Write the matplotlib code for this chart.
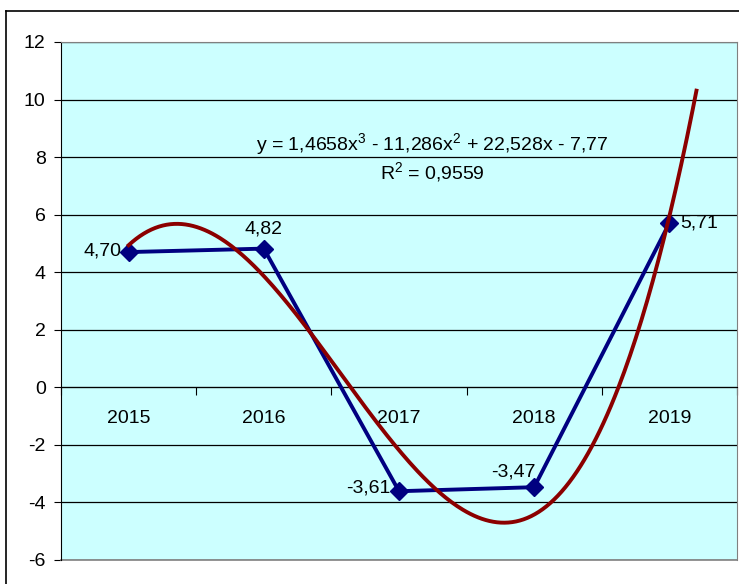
import numpy as np
import matplotlib
matplotlib.use('Agg')
from matplotlib import pyplot as plt
from matplotlib.lines import Line2D

plt.rcParams['font.family'] = ['Liberation Sans', 'DejaVu Sans']
plt.rcParams['mathtext.fontset'] = 'custom'
plt.rcParams['mathtext.rm'] = 'Liberation Sans'
plt.rcParams['mathtext.it'] = 'Liberation Sans'
plt.rcParams['axes.unicode_minus'] = False

years = ['2015', '2016', '2017', '2018', '2019']
values = [4.70, 4.82, -3.61, -3.47, 5.71]
value_labels = ['4,70', '4,82', '-3,61', '-3,47', '5,71']
equation = r'y = 1,4658x$^3$ - 11,286x$^2$ + 22,528x - 7,77'
r_squared = r'R$^2$ = 0,9559'
y_ticks = [-6, -4, -2, 0, 2, 4, 6, 8, 10, 12]

x = np.arange(1, len(years) + 1)
fs = 14

fig = plt.figure(figsize=(7.39, 5.84), dpi=100)
ax = fig.add_axes([61 / 739, 1 - 560 / 584, 676 / 739, 518 / 584])
ax.set_facecolor('#CCFFFF')

# outer chart frame (cropped at right and bottom)
fig.add_artist(Line2D([6 / 739, 6 / 739], [-0.01, 1 - 11 / 584], color='black', lw=1.2))
fig.add_artist(Line2D([6 / 739, 1.01], [1 - 11 / 584, 1 - 11 / 584], color='black', lw=1.2))

ax.set_ylim(-6, 12)
ax.set_xlim(0.5, 5.5)
ax.set_yticks(y_ticks)
ax.yaxis.grid(True, color='black', lw=0.9)
ax.set_axisbelow(True)

# category axis crossing at zero
ax.spines['bottom'].set_position(('data', 0))
ax.spines['bottom'].set_color('black')
ax.spines['left'].set_color('black')
ax.spines['top'].set_color('#808080')
ax.spines['right'].set_color('#808080')
ax.plot([0, 1], [0, 0], transform=ax.transAxes, color='#808080', lw=1.2, clip_on=False)

ax.set_xticks(np.arange(0.5, 6.0, 1.0))
ax.set_xticklabels([])
ax.set_xticks(x, minor=True)
ax.set_xticklabels(years, minor=True)
ax.tick_params(axis='x', which='major', direction='out', length=6, color='black')
ax.tick_params(axis='x', which='minor', length=0, pad=16, labelsize=fs)
ax.tick_params(axis='y', direction='out', length=5, pad=6, labelsize=fs)

# data series
ax.plot(x, values, color='#000080', lw=2.8, marker='D', ms=9, zorder=3)

# polynomial trendline (order 3, forecast forward 0.2)
coef = np.polyfit(x, values, 3)
xs = np.linspace(1, 5.2, 300)
ax.plot(xs, np.polyval(coef, xs), color='#8B0000', lw=2.8, zorder=4, clip_on=False)

label_offsets = [(-5, 1, 'right'), (0, 14, 'center'), (-6, 2, 'right'),
                 (-15, 11, 'center'), (8, 0, 'left')]
for xi, v, lab, (dx, dy, ha) in zip(x, values, value_labels, label_offsets):
    ax.annotate(lab, (xi, v), xytext=(dx, dy), textcoords='offset points',
                ha=ha, va='center', fontsize=fs, zorder=5)

ax.text(3.245, 8.47, equation, ha='center', va='center', fontsize=fs)
ax.text(3.245, 7.47, r_squared, ha='center', va='center', fontsize=fs)

fig.savefig('out.png', dpi=100)
